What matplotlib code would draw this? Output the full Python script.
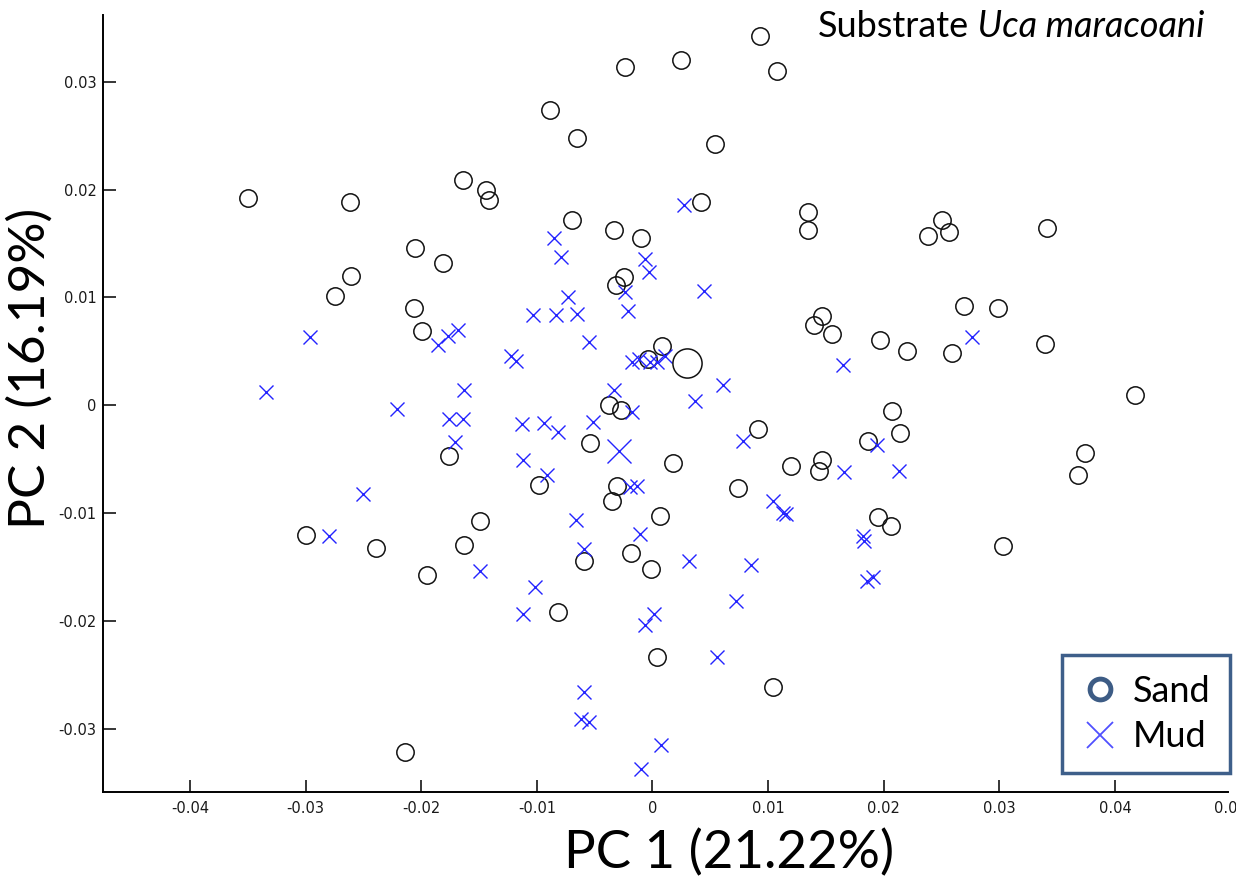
import matplotlib
matplotlib.use("Agg")
from matplotlib import pyplot as plt
from matplotlib.lines import Line2D

# PCA scores, substrate groups
sand_pc1 = [-0.03502, -0.02617, -0.02611, -0.02747, -0.02054, -0.01810, -0.02063, -0.01991,
            0.00930, 0.00247, -0.00238, 0.01080, -0.00887, -0.00656, 0.00541, -0.01642,
            -0.01440, -0.01412, 0.00420, 0.01348, 0.01348, -0.00699, -0.00336, -0.00097,
            -0.00244, -0.00316, 0.02507, 0.02386, 0.02565, 0.03410, -0.00036, 0.00080,
            -0.00376, -0.00270, 0.00915, -0.00541, -0.01763, 0.00175, 0.01198, -0.00984,
            -0.00310, -0.00348, 0.00742, 0.00065, -0.01492, -0.01628, -0.00593, -0.00189,
            -0.00010, -0.01951, 0.01469, 0.01400, 0.01550, 0.01968, 0.02199, 0.02588,
            0.02697, 0.02991, 0.03395, 0.04174, 0.02074, 0.02144, 0.01867, 0.01469,
            0.01440, 0.03741, 0.03678, 0.01948, 0.02063, 0.03029, -0.03000, -0.02394,
            -0.02141, -0.00820, 0.00042, 0.01040]
sand_pc2 = [0.01922, 0.01885, 0.01201, 0.01009, 0.01458, 0.01319, 0.00904, 0.00685,
            0.03421, 0.03205, 0.03137, 0.03096, 0.02735, 0.02479, 0.02426, 0.02085,
            0.01999, 0.01906, 0.01885, 0.01792, 0.01622, 0.01714, 0.01628, 0.01551,
            0.01189, 0.01118, 0.01714, 0.01566, 0.01603, 0.01640, 0.00429, 0.00545,
            0.00000, -0.00042, -0.00218, -0.00351, -0.00475, -0.00536, -0.00568, -0.00744,
            -0.00753, -0.00892, -0.00768, -0.01025, -0.01078, -0.01294, -0.01449, -0.01371,
            -0.01519, -0.01572, 0.00830, 0.00747, 0.00660, 0.00608, 0.00499, 0.00484,
            0.00917, 0.00902, 0.00571, 0.00097, -0.00051, -0.00258, -0.00336, -0.00506,
            -0.00608, -0.00443, -0.00645, -0.01037, -0.01124, -0.01310, -0.01201, -0.01325,
            -0.03212, -0.01918, -0.02336, -0.02614]

mud_pc1 = [0.00270, -0.00849, -0.00792, -0.00067, -0.00028, -0.00242, 0.00445, -0.00728,
           -0.00209, -0.01031, -0.00835, -0.00656, -0.01680, -0.01772, -0.01853, -0.00549,
           -0.01227, -0.01183, -0.00180, -0.00114, -0.00022, 0.00042, 0.00108, 0.00607,
           0.00365, -0.00330, -0.00175, -0.01628, -0.02208, -0.01760, -0.01637, -0.01126,
           -0.00939, -0.00820, -0.00512, -0.01706, 0.00785, -0.01118, -0.00915, -0.00195,
           -0.00131, 0.01045, 0.01131, 0.01151, -0.00662, -0.00108, -0.00593, 0.00313,
           0.00849, -0.01492, -0.02502, -0.02798, -0.02963, -0.03346, 0.02761, 0.01651,
           0.01939, 0.01657, 0.02132, 0.01818, 0.01830, 0.01853, 0.01910, -0.01016,
           -0.01118, 0.00720, 0.00013, -0.00065, 0.00555, -0.00593, -0.00619, -0.00549,
           0.00071, -0.00102]
mud_pc2 = [0.01860, 0.01551, 0.01375, 0.01356, 0.01236, 0.01048, 0.01062, 0.01006,
           0.00870, 0.00840, 0.00840, 0.00846, 0.00700, 0.00638, 0.00561, 0.00586,
           0.00459, 0.00406, 0.00401, 0.00429, 0.00401, 0.00401, 0.00453, 0.00184,
           0.00035, 0.00137, -0.00058, 0.00144, -0.00035, -0.00128, -0.00128, -0.00172,
           -0.00165, -0.00249, -0.00156, -0.00341, -0.00329, -0.00512, -0.00645, -0.00759,
           -0.00753, -0.00892, -0.01000, -0.01011, -0.01062, -0.01192, -0.01334, -0.01449,
           -0.01486, -0.01535, -0.00824, -0.01211, 0.00633, 0.00122, 0.00633, 0.00376,
           -0.00373, -0.00620, -0.00614, -0.01217, -0.01263, -0.01634, -0.01594, -0.01686,
           -0.01937, -0.01820, -0.01937, -0.02036, -0.02336, -0.02660, -0.02911, -0.02939,
           -0.03149, -0.03372]

# group means
sand_mean = [0.00301, 0.00391]
mud_mean = [-0.00290, -0.00422]

x_ticks = [-0.04, -0.03, -0.02, -0.01, 0, 0.01, 0.02, 0.03, 0.04]
x_labels = ["-0.04", "-0.03", "-0.02", "-0.01", "0", "0.01", "0.02", "0.03", "0.04"]
y_ticks = [-0.03, -0.02, -0.01, 0, 0.01, 0.02, 0.03]
y_labels = ["-0.03", "-0.02", "-0.01", "0", "0.01", "0.02", "0.03"]

plt.rcParams['axes.unicode_minus'] = False
big_font = 'Lato'
mud_color = '#2424ff'

fig = plt.figure(figsize=(12.36, 8.81), dpi=100)
ax = fig.add_axes([0.0831, 0.1007, 0.9102, 0.8823])

ax.plot(sand_pc1, sand_pc2, linestyle='none', marker='o', markersize=12.5,
        markerfacecolor='none', markeredgecolor='#111111', markeredgewidth=1.1)
ax.plot(mud_pc1, mud_pc2, linestyle='none', marker='x', markersize=10.5,
        color=mud_color, markeredgewidth=1.0)
ax.plot(sand_mean[0], sand_mean[1], marker='o', markersize=21,
        markerfacecolor='none', markeredgecolor='#111111', markeredgewidth=1.1)
ax.plot(mud_mean[0], mud_mean[1], marker='x', markersize=17,
        color=mud_color, markeredgewidth=1.0)

ax.set_xlim(-0.04756, 0.04976)
ax.set_ylim(-0.0359, 0.0362)
ax.spines['top'].set_visible(False)
ax.spines['right'].set_visible(False)
ax.spines['left'].set_linewidth(1.4)
ax.spines['bottom'].set_linewidth(1.4)
ax.set_xticks(x_ticks)
ax.set_xticklabels(x_labels)
ax.set_yticks(y_ticks)
ax.set_yticklabels(y_labels)
ax.tick_params(direction='in', length=9, width=1.1, labelsize=10.5,
               labelcolor='#1a1a1a')
ax.tick_params(axis='x', pad=6)
ax.tick_params(axis='y', pad=4.5)

# the 0.05 label is cut off by the figure edge
ax.annotate('0.05', xy=(0.05, 0), xycoords=('data', 'axes fraction'),
            xytext=(0, -6), textcoords='offset points', ha='center', va='top',
            fontsize=10.5, color='#1a1a1a', annotation_clip=False)

fig.text(0.5898, 0.0148, 'PC 1 (21.22%)', ha='center', va='baseline',
         fontsize=38, family=big_font)
fig.text(0.006, 0.5823, 'PC 2 (16.19%)', ha='left', va='center',
         rotation=90, fontsize=37, family=big_font)

t = fig.text(818 / 1236, 1 - 37 / 881, 'Substrate', ha='left', va='baseline',
             fontsize=26, family=big_font)
ax.annotate(' Uca maracoani', xy=(1, 0), xycoords=t, ha='left', va='bottom',
            fontsize=26, family=big_font, style='italic')

handles = [
    Line2D([], [], linestyle='none', marker='o', markersize=15,
           markerfacecolor='none', markeredgecolor='#3d5c85', markeredgewidth=3.5),
    Line2D([], [], linestyle='none', marker='x', markersize=19,
           color='#5050ff', markeredgewidth=1.3),
]
leg = fig.legend(handles, ['Sand', 'Mud'], loc='lower right',
                 bbox_to_anchor=(1230 / 1236, 1 - 773 / 881),
                 prop={'family': big_font, 'size': 26}, fancybox=False,
                 framealpha=1, edgecolor='#3e5f8a', handlelength=1.0,
                 handletextpad=0.4, borderpad=0.55, labelspacing=0.35,
                 borderaxespad=0)
leg.get_frame().set_linewidth(2.5)

plt.savefig('out.png', dpi=100)
